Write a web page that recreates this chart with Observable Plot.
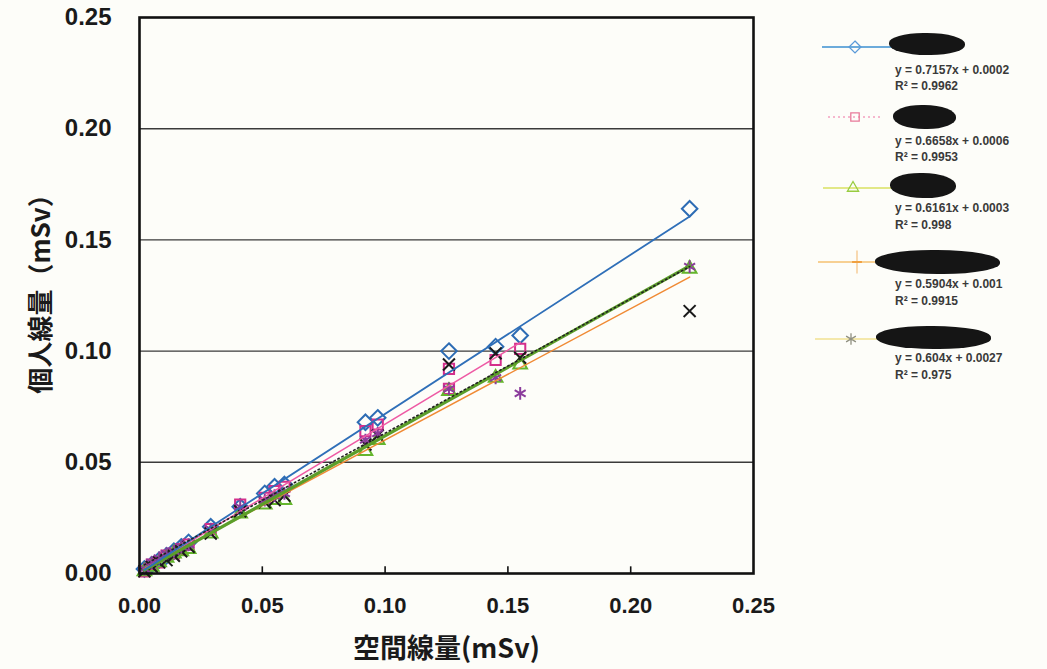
<!DOCTYPE html>
<html>
<head>
<meta charset="utf-8">
<script src="https://cdn.jsdelivr.net/npm/d3@7"></script>
<script src="https://cdn.jsdelivr.net/npm/@observablehq/plot@0.6"></script>
<style>
  html, body { margin: 0; padding: 0; background: #fdfdf9; }
  #wrap { position: relative; width: 1047px; height: 669px; overflow: hidden; font-family: "Liberation Sans", Arial, sans-serif; }
  #chart { position: absolute; left: 0; top: 0; }
  .blob { position: absolute; background: #151515; border-radius: 45% 50% 45% 50%; filter: blur(0.6px); }
  .eq { position: absolute; left: 895px; font-size: 12px; color: #3a3a3a; font-weight: bold; white-space: nowrap; line-height: 1; transform: translateY(-50%); }
</style>
</head>
<body>
<div id="wrap">
  <div id="chart"></div>
</div>
<script>
// ---- data ----
const seriesNames = ["S1", "S2", "S3", "S4", "S5"];
const xS1 = [0.002, 0.005, 0.008, 0.011, 0.014, 0.017, 0.020, 0.029, 0.041, 0.051, 0.055, 0.059, 0.092, 0.097, 0.126, 0.145, 0.155, 0.224];
const yS1 = [0.002, 0.004, 0.006, 0.008, 0.010, 0.012, 0.014, 0.021, 0.030, 0.036, 0.039, 0.040, 0.068, 0.070, 0.100, 0.102, 0.107, 0.164];
const xS2 = [0.002, 0.005, 0.008, 0.011, 0.014, 0.017, 0.020, 0.029, 0.041, 0.051, 0.055, 0.059, 0.092, 0.097, 0.126, 0.126, 0.145, 0.155];
const yS2 = [0.001, 0.004, 0.005, 0.008, 0.009, 0.011, 0.013, 0.020, 0.031, 0.034, 0.037, 0.039, 0.064, 0.067, 0.092, 0.083, 0.096, 0.101];
const xS3 = [0.002, 0.005, 0.008, 0.011, 0.014, 0.017, 0.020, 0.029, 0.041, 0.051, 0.055, 0.059, 0.092, 0.097, 0.126, 0.145, 0.155, 0.224];
const yS3 = [0.001, 0.003, 0.005, 0.007, 0.009, 0.010, 0.011, 0.018, 0.027, 0.031, 0.033, 0.033, 0.055, 0.060, 0.082, 0.088, 0.094, 0.137];
const xS4 = [0.002, 0.005, 0.008, 0.011, 0.014, 0.017, 0.020, 0.029, 0.041, 0.051, 0.055, 0.059, 0.092, 0.097, 0.126, 0.145, 0.155, 0.224];
const yS4 = [0.001, 0.003, 0.005, 0.006, 0.008, 0.010, 0.012, 0.018, 0.028, 0.032, 0.033, 0.035, 0.058, 0.062, 0.094, 0.099, 0.097, 0.118];
const xS5 = [0.002, 0.005, 0.008, 0.011, 0.014, 0.017, 0.020, 0.029, 0.041, 0.051, 0.055, 0.059, 0.092, 0.097, 0.126, 0.145, 0.155, 0.224];
const yS5 = [0.002, 0.005, 0.007, 0.009, 0.010, 0.012, 0.013, 0.020, 0.030, 0.033, 0.035, 0.036, 0.060, 0.063, 0.083, 0.088, 0.081, 0.138];
const slopes = [0.7157, 0.6658, 0.6161, 0.5904, 0.604];
const intercepts = [0.0002, 0.0006, 0.0003, 0.001, 0.0027];
const eqLabels = ["y = 0.7157x + 0.0002", "y = 0.6658x + 0.0006", "y = 0.6161x + 0.0003", "y = 0.5904x + 0.001", "y = 0.604x + 0.0027"];
const r2Labels = ["R² = 0.9962", "R² = 0.9953", "R² = 0.998", "R² = 0.9915", "R² = 0.975"];
const xTicks = [0, 0.05, 0.10, 0.15, 0.20, 0.25];
const yTicks = [0, 0.05, 0.10, 0.15, 0.20, 0.25];
const xLabel = "空間線量(mSv)";
const yLabel = "個人線量（mSv）";

// ---- styling ----
const xs = [xS1, xS2, xS3, xS4, xS5];
const ys = [yS1, yS2, yS3, yS4, yS5];
const markerColor = ["#2d6cb4", "#d42f8c", "#64b52c", "#1a1a1a", "#8b3c9c"];
const markerSymbol = ["diamond2", "square2", "triangle2", "times", "asterisk"];
const markerR = [7, 6.5, 6.5, 5.5, 6];
const lineColor = ["#2f6fb8", "#ee5aa4", "#5c9e2a", "#f08a34", "#222"];
const lineWidth = [1.8, 1.5, 3.2, 1.5, 1.6];
const lineDash = [null, null, null, null, "1.5,3"];

const points = [];
const trends = [];
seriesNames.forEach((s, i) => {
  xs[i].forEach((x, j) => points.push({s, i, x, y: ys[i][j]}));
  const x0 = d3.min(xs[i]), x1 = d3.max(xs[i]);
  trends.push({s, i, pts: [x0, x1].map(x => ({x, y: slopes[i] * x + intercepts[i]}))});
});

const marks = [
  Plot.ruleY(yTicks.filter(d => d > 0 && d < 0.25), {stroke: "#3a3a3a", strokeWidth: 1.4}),
  Plot.ruleX(xTicks.filter(d => d > 0 && d < 0.25), {y1: 0, y2: 0.003, stroke: "#111", strokeWidth: 1.6}),
];
[0, 1, 2, 3, 4].forEach(i => {
  marks.push(Plot.dot(points.filter(d => d.i === i), {
    x: "x", y: "y", symbol: () => markerSymbol[i], r: markerR[i],
    stroke: markerColor[i], strokeWidth: 2, fill: "none"
  }));
});
[3, 1, 2, 0, 4].forEach(i => {
  marks.push(Plot.line(trends[i].pts, {
    x: "x", y: "y", stroke: lineColor[i], strokeWidth: lineWidth[i],
    strokeDasharray: lineDash[i]
  }));
});
marks.push(
  Plot.frame({stroke: "#111", strokeWidth: 2.6}),
  Plot.axisY(yTicks, {tickFormat: d3.format(".2f"), tickSize: 0, tickPadding: 28, fontSize: 24, fontWeight: "bold", label: null, fill: "#1a1a1a"}),
  Plot.axisX(xTicks, {tickFormat: d3.format(".2f"), tickSize: 0, tickPadding: 24, fontSize: 22, fontWeight: "bold", label: null, fill: "#1a1a1a"}),
  Plot.text([xLabel], {frameAnchor: "bottom", textAnchor: "middle", dy: 84, fontSize: 27, fontWeight: "bold", fill: "#1a1a1a", fontFamily: "'Noto Sans CJK JP', sans-serif"}),
  Plot.text([yLabel], {frameAnchor: "left", textAnchor: "middle", dx: -98, dy: -8, rotate: -90, fontSize: 26, fontWeight: "bold", fill: "#1a1a1a", fontFamily: "'Noto Sans CJK JP', sans-serif"})
);

const chart = Plot.plot({
  width: 800, height: 669,
  marginLeft: 139, marginRight: 47, marginTop: 17, marginBottom: 96,
  x: {domain: [0, 0.25]},
  y: {domain: [0, 0.25]},
  style: {background: "transparent", fontFamily: "'Liberation Sans', Arial, sans-serif", overflow: "visible"},
  marks
});
document.getElementById("chart").appendChild(chart);

// ---- legend (right side) ----
const wrap = document.getElementById("wrap");
const legRows = [
  {ly: 47, lx0: 822, lx1: 893, mx: 855, blob: [889, 33, 76, 22], eqY: 70, r2Y: 86, lineCol: "#3b8fd0", dash: null, mcol: "#5a9ad8"},
  {ly: 117, lx0: 828, lx1: 882, mx: 855, blob: [893, 105, 63, 24], eqY: 141, r2Y: 157, lineCol: "#f4a0c0", dash: "2,3", mcol: "#e87a9a"},
  {ly: 188, lx0: 823, lx1: 893, mx: 853, blob: [890, 173, 66, 25], eqY: 208, r2Y: 225, lineCol: "#d8e060", dash: null, mcol: "#98cc40"},
  {ly: 262, lx0: 818, lx1: 876, mx: 857, blob: [875, 250, 125, 24], eqY: 284, r2Y: 301, lineCol: "#f5c070", dash: null, mcol: "#f0a040"},
  {ly: 339, lx0: 815, lx1: 877, mx: 851, blob: [876, 326, 115, 23], eqY: 358, r2Y: 375, lineCol: "#f0e090", dash: null, mcol: "#909080"},
];
const legSym = [d3.symbolDiamond2, d3.symbolSquare2, d3.symbolTriangle2, d3.symbolPlus, d3.symbolAsterisk];
const svgNS = "http://www.w3.org/2000/svg";
const lsvg = document.createElementNS(svgNS, "svg");
lsvg.setAttribute("width", 1047); lsvg.setAttribute("height", 669);
lsvg.style.position = "absolute"; lsvg.style.left = "0"; lsvg.style.top = "0";
legRows.forEach((r, i) => {
  const ln = document.createElementNS(svgNS, "line");
  ln.setAttribute("x1", r.lx0); ln.setAttribute("x2", r.lx1);
  ln.setAttribute("y1", r.ly); ln.setAttribute("y2", r.ly);
  ln.setAttribute("stroke", r.lineCol); ln.setAttribute("stroke-width", 1.5);
  if (r.dash) ln.setAttribute("stroke-dasharray", r.dash);
  lsvg.appendChild(ln);
  const p = document.createElementNS(svgNS, "path");
  p.setAttribute("d", d3.symbol(legSym[i], 90)());
  p.setAttribute("transform", `translate(${r.mx},${r.ly})` + (i === 3 ? " scale(0.6,1.4)" : ""));
  p.setAttribute("fill", "none"); p.setAttribute("stroke", r.mcol); p.setAttribute("stroke-width", 1.3);
  lsvg.appendChild(p);
});
wrap.appendChild(lsvg);
legRows.forEach((r, i) => {
  const b = document.createElement("div");
  b.className = "blob";
  b.style.left = r.blob[0] + "px"; b.style.top = r.blob[1] + "px";
  b.style.width = r.blob[2] + "px"; b.style.height = r.blob[3] + "px";
  wrap.appendChild(b);
  const e = document.createElement("div");
  e.className = "eq"; e.style.top = r.eqY + "px"; e.textContent = eqLabels[i];
  wrap.appendChild(e);
  const q = document.createElement("div");
  q.className = "eq"; q.style.top = r.r2Y + "px"; q.textContent = r2Labels[i];
  wrap.appendChild(q);
});
</script>
</body>
</html>
